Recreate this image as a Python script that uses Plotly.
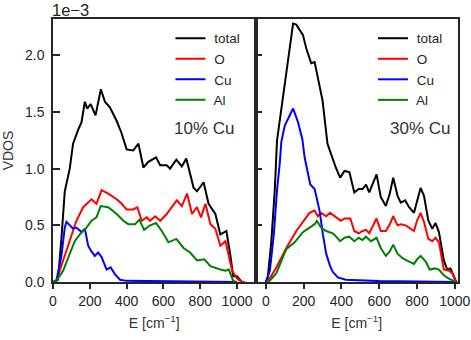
import plotly.graph_objects as go
from plotly.subplots import make_subplots

# VDOS values are in units of 1e-3 (the axis shows an offset label "1e-3")

# ---- 10% Cu (left panel) ----
E_TOTAL_10 = [0, 27, 46, 64, 91, 109, 136, 155, 173, 186, 204, 231, 260, 282, 309, 346, 373, 400, 436,
              464, 491, 518, 560, 582, 618, 636, 670, 700, 724, 764, 782, 818, 845, 882, 909, 942, 964,
              979, 1000, 1025, 1040]
TOTAL_10 = [0, 0.02, 0.39, 0.80, 1.0, 1.22, 1.34, 1.41, 1.59, 1.53, 1.57, 1.47, 1.70, 1.59, 1.54, 1.42,
            1.31, 1.17, 1.16, 1.22, 1.01, 1.06, 1.10, 1.03, 1.03, 1.0, 1.08, 1.02, 1.09, 0.83, 0.80, 0.88,
            0.69, 0.60, 0.42, 0.45, 0.23, 0.05, 0.05, 0.0, 0.0]

E_O_10 = [0, 18, 55, 91, 127, 164, 182, 209, 236, 264, 300, 346, 373, 400, 436, 458, 482, 509, 527, 555,
          582, 618, 645, 673, 700, 728, 755, 782, 804, 828, 855, 882, 909, 937, 973, 1000, 1025, 1040]
O_10 = [0, 0.01, 0.19, 0.36, 0.54, 0.66, 0.69, 0.73, 0.69, 0.81, 0.78, 0.73, 0.69, 0.64, 0.64, 0.66, 0.54,
        0.57, 0.54, 0.58, 0.54, 0.60, 0.66, 0.72, 0.67, 0.78, 0.60, 0.66, 0.57, 0.69, 0.51, 0.47, 0.32,
        0.36, 0.10, 0.03, 0.0, 0.0]

E_CU_10 = [0, 18, 45, 64, 73, 91, 109, 127, 155, 173, 191, 209, 227, 245, 264, 291, 313, 336, 364, 400,
           600, 800, 1000]
CU_10 = [0, 0.01, 0.22, 0.48, 0.53, 0.50, 0.47, 0.48, 0.44, 0.47, 0.32, 0.27, 0.23, 0.26, 0.22, 0.11,
         0.13, 0.07, 0.02, 0.01, 0.005, 0.003, 0.0]

E_AL_10 = [0, 18, 55, 91, 118, 146, 182, 209, 236, 259, 300, 346, 382, 409, 446, 469, 495, 527, 560, 591,
           627, 670, 709, 745, 782, 822, 855, 909, 937, 955, 979, 1000]
AL_10 = [0, 0.01, 0.10, 0.25, 0.36, 0.42, 0.48, 0.54, 0.57, 0.67, 0.66, 0.60, 0.54, 0.51, 0.51, 0.55,
         0.46, 0.50, 0.52, 0.45, 0.35, 0.38, 0.30, 0.26, 0.19, 0.20, 0.14, 0.11, 0.10, 0.11, 0.01, 0.0]

# ---- 30% Cu (right panel) ----
E_TOTAL_30 = [0, 10, 29, 47, 59, 91, 118, 144, 161, 179, 196, 214, 240, 258, 275, 300, 326, 344, 370, 393,
              416, 442, 468, 491, 512, 530, 547, 586, 608, 635, 656, 674, 697, 714, 737, 758, 784, 795,
              819, 837, 860, 881, 898, 916, 942, 960, 977, 1003, 1010]
TOTAL_30 = [0, 0.04, 0.36, 0.81, 1.25, 1.65, 1.97, 2.28, 2.27, 2.22, 2.18, 2.06, 1.93, 1.94, 1.79, 1.60,
            1.22, 1.13, 1.01, 0.92, 0.98, 0.97, 0.79, 0.82, 0.82, 0.86, 0.79, 0.95, 0.75, 0.67, 0.78,
            0.92, 0.76, 0.70, 0.72, 0.66, 0.61, 0.68, 0.83, 0.76, 0.54, 0.47, 0.52, 0.44, 0.19, 0.11,
            0.12, 0.02, 0.0]

E_O_30 = [0, 20, 56, 108, 161, 205, 231, 258, 275, 292, 319, 340, 376, 397, 416, 447, 468, 491, 512, 530,
          547, 586, 608, 635, 656, 674, 697, 714, 740, 758, 784, 800, 819, 837, 860, 881, 898, 916, 942,
          968, 986, 1003, 1010]
O_30 = [0, 0.03, 0.13, 0.30, 0.45, 0.55, 0.61, 0.63, 0.58, 0.61, 0.58, 0.61, 0.57, 0.54, 0.56, 0.56,
        0.45, 0.43, 0.45, 0.46, 0.43, 0.56, 0.45, 0.45, 0.51, 0.58, 0.50, 0.51, 0.50, 0.48, 0.45, 0.54,
        0.61, 0.53, 0.38, 0.36, 0.39, 0.35, 0.11, 0.10, 0.08, 0.01, 0.0]

E_CU_30 = [0, 21, 42, 59, 73, 82, 100, 126, 144, 170, 193, 205, 223, 235, 258, 270, 284, 302, 319, 340,
           354, 381, 423, 600, 800, 1000]
CU_30 = [0, 0.10, 0.42, 0.81, 1.04, 1.24, 1.38, 1.47, 1.53, 1.41, 1.26, 1.10, 0.95, 0.86, 0.82, 0.72,
         0.63, 0.42, 0.25, 0.14, 0.09, 0.04, 0.02, 0.008, 0.004, 0.0]

E_AL_30 = [0, 20, 56, 108, 152, 196, 231, 258, 270, 292, 319, 354, 372, 393, 416, 442, 468, 491, 512, 530,
           556, 586, 608, 635, 656, 674, 697, 723, 758, 784, 800, 819, 846, 867, 895, 916, 942, 968, 995,
           1010]
AL_30 = [0, 0.01, 0.08, 0.29, 0.35, 0.44, 0.48, 0.51, 0.54, 0.48, 0.45, 0.43, 0.40, 0.36, 0.39, 0.40,
         0.36, 0.39, 0.37, 0.40, 0.36, 0.39, 0.30, 0.23, 0.27, 0.33, 0.25, 0.21, 0.18, 0.16, 0.20, 0.23,
         0.18, 0.11, 0.12, 0.11, 0.06, 0.03, 0.01, 0.0]

PANELS = [
    ("10% Cu", [("total", E_TOTAL_10, TOTAL_10), ("O", E_O_10, O_10),
                ("Cu", E_CU_10, CU_10), ("Al", E_AL_10, AL_10)]),
    ("30% Cu", [("total", E_TOTAL_30, TOTAL_30), ("O", E_O_30, O_30),
                ("Cu", E_CU_30, CU_30), ("Al", E_AL_30, AL_30)]),
]
COLORS = {"total": "#000000", "O": "#ff0000", "Cu": "#0000ff", "Al": "#008000"}
X_TICKS = [0, 200, 400, 600, 800, 1000]
Y_TICKS = [0.0, 0.5, 1.0, 1.5, 2.0]

FONT = "Liberation Sans, Arial, sans-serif"
INK = "#262626"

fig = make_subplots(rows=1, cols=2, shared_yaxes=True, horizontal_spacing=0)

for col, (label, series) in enumerate(PANELS, start=1):
    for name, ex, vals in series:
        fig.add_trace(go.Scatter(
            x=ex, y=vals, mode="lines", name=" " + name,  # leading space widens the gap to the swatch
            line=dict(color=COLORS[name], width=2),
            legend="legend" if col == 1 else "legend2",
        ), row=1, col=col)

axis_common = dict(showline=True, linecolor=INK, linewidth=1.5, mirror=True, automargin=False,
                   showgrid=False, zeroline=False, tickcolor=INK, tickwidth=1.5,
                   tickfont=dict(size=14, color=INK, family=FONT))

fig.update_xaxes(tickvals=X_TICKS, ticks="outside", ticklen=5,
                 title=dict(text="E [cm<sup>−1</sup>]", font=dict(size=14, color="#333", family=FONT),
                            standoff=11),
                 **axis_common)
fig.update_xaxes(range=[0, 1100], domain=[0, 0.5], row=1, col=1)
fig.update_xaxes(range=[-55, 1017], domain=[0.5, 1], row=1, col=2)

fig.update_yaxes(range=[0, 2.32], tickvals=Y_TICKS, tickformat=".1f", ticks="inside", ticklen=7,
                 ticklabelstandoff=4, **axis_common)
fig.update_yaxes(title=dict(text="VDOS", font=dict(size=14, color="#333", family=FONT), standoff=8),
                 row=1, col=1)
fig.update_yaxes(showticklabels=False, row=1, col=2)

legend_style = dict(bgcolor="rgba(0,0,0,0)", borderwidth=0, xanchor="left", yanchor="top",
                    font=dict(size=13.5, color=INK, family=FONT), tracegroupgap=0)

fig.update_layout(
    width=471, height=340,
    margin=dict(l=53, r=13, t=19, b=58, autoexpand=False),
    plot_bgcolor="white", paper_bgcolor="white",
    font=dict(family=FONT, color=INK),
    showlegend=True,
    legend=dict(x=0.29, y=0.985, **legend_style),
    legend2=dict(x=0.79, y=0.985, **legend_style),
    annotations=[
        dict(text="1e−3", xref="paper", yref="paper", x=0, y=1.036, xanchor="left", yanchor="middle",
             showarrow=False, font=dict(size=16.5, color=INK, family=FONT), xshift=-2, borderpad=0),
        dict(text="10% Cu", xref="x", yref="y", x=822, y=1.35, showarrow=False,
             font=dict(size=17, color="#333", family=FONT)),
        dict(text="30% Cu", xref="x2", yref="y2", x=815, y=1.35, showarrow=False,
             font=dict(size=17, color="#333", family=FONT)),
    ],
)

# drop the browser's default 8px body margin so the figure sits at the page origin
fig.write_html("out.html", post_script="document.body.style.margin='0';",
               config={"displayModeBar": False})
